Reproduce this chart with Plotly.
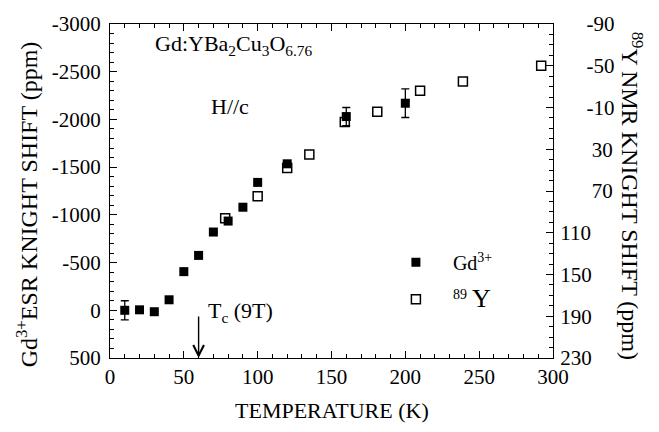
import plotly.graph_objects as go

# Gd3+ ESR Knight shift (left axis, ppm)
gd_T = [10, 20, 30, 40, 50, 60, 70, 80, 90, 100, 120, 160, 200]
gd_K = [0, -5, 15, -110, -405, -575, -820, -935, -1080, -1340, -1535, -2030, -2170]
gd_err = [100, 0, 0, 0, 0, 0, 0, 0, 0, 0, 0, 95, 150]

# 89Y NMR Knight shift (right axis, ppm)
y_T = [78, 100, 120, 135, 159, 181, 210, 239, 292]
y_K = [96, 75, 48, 35, 4, -6, -26, -35, -50]

# tick labels
left_ticks = [-3000, -2500, -2000, -1500, -1000, -500, 0, 500]
left_labels = ["-3000", "-2500", "-2000", "-1500", "-1000", "-500", "0", "500"]
right_ticks = [-90, -50, -10, 30, 70, 110, 150, 190, 230]
right_labels = ["-90", "-50", "-10", "30", "70", "110", "150", "190", "230"]
# the original's right-axis labels are not all aligned the same way
right_pad = [5, 5, 5, 6, 6, 0, 0, 0, 0]

FONT = "Liberation Serif"

fig = go.Figure()
fig.add_trace(go.Scatter(
    x=gd_T, y=gd_K, mode="markers", name="Gd<sup>3+</sup>", legendgroup="a",
    marker=dict(symbol="square", size=9, color="black"),
    error_y=dict(type="data", array=gd_err, visible=True, color="black",
                 thickness=1.3, width=4),
    yaxis="y"))
fig.add_trace(go.Scatter(
    x=y_T, y=y_K, mode="markers", legendgroup="b",
    name="<sup>89</sup> <span style='font-size:26px'>Y</span>",
    marker=dict(symbol="square-open", size=9, color="black", line=dict(width=1.5)),
    yaxis="y2"))

axis_common = dict(showline=True, linecolor="black", linewidth=1.3,
                   ticks="inside", tickcolor="black", tickwidth=1.2,
                   showgrid=False, zeroline=False,
                   tickfont=dict(family=FONT, size=21, color="black"))

fig.update_layout(
    width=659, height=432,
    margin=dict(l=110, r=106, t=12, b=74),
    paper_bgcolor="white", plot_bgcolor="white",
    showlegend=True,
    legend=dict(x=0.607, y=0.345, xanchor="left", yanchor="top",
                font=dict(family=FONT, size=20, color="black"),
                itemwidth=64, bgcolor="rgba(0,0,0,0)", tracegroupgap=8),
    xaxis=dict(range=[0, 300], tick0=0, dtick=50, ticklen=7, mirror="ticks",
               minor=dict(dtick=10, ticklen=4, ticks="inside", tickcolor="black"),
               **axis_common),
    yaxis=dict(range=[500, -3000], tickmode="array", tickvals=left_ticks,
               ticktext=left_labels, ticklen=7, ticklabelstandoff=4,
               minor=dict(tick0=0, dtick=100, ticklen=4, ticks="inside", tickcolor="black"),
               **axis_common),
    yaxis2=dict(range=[230, -90], tickmode="array", tickvals=right_ticks,
                ticktext=["\u00a0" * p + t for p, t in zip(right_pad, right_labels)],
                ticklen=7, ticklabelstandoff=2,
                overlaying="y", side="right",
                minor=dict(tick0=-90, dtick=10, ticklen=4, ticks="inside", tickcolor="black"),
                **axis_common),
)

ann_font = dict(family=FONT, size=22, color="black")
title_font = dict(family=FONT, size=24, color="black")
fig.add_annotation(text="TEMPERATURE (K)", xref="paper", yref="paper",
                   x=0.5, y=0, yshift=-52, yanchor="middle", showarrow=False,
                   font=dict(family=FONT, size=22, color="black"))
fig.add_annotation(text="Gd<sup>3+</sup>ESR KNIGHT SHIFT (ppm)", xref="paper", yref="paper",
                   x=0, xshift=-83, y=0.46, xanchor="center", yanchor="middle",
                   textangle=-90, showarrow=False, font=title_font)
fig.add_annotation(text="<sup>89</sup>Y NMR KNIGHT SHIFT (ppm)", xref="paper", yref="paper",
                   x=1, xshift=79, y=0.486, xanchor="center", yanchor="middle",
                   textangle=90, showarrow=False, font=title_font)
fig.add_annotation(text="Gd:YBa<sub>2</sub>Cu<sub>3</sub>O<sub>6.76</sub>", x=29, y=-2780,
                   xanchor="left", showarrow=False, font=ann_font)
fig.add_annotation(text="H//c", x=81, y=-2140, showarrow=False, font=ann_font)
fig.add_annotation(text="T<sub>c</sub> (9T)", x=65, y=20, xanchor="left",
                   showarrow=False, font=ann_font)
fig.add_annotation(x=60, y=500, ax=60, ay=50, xref="x", yref="y", axref="x", ayref="y",
                   text="", showarrow=True, arrowhead=5, arrowsize=1.5,
                   arrowwidth=1.4, arrowcolor="black")

fig.write_html("out.html")
